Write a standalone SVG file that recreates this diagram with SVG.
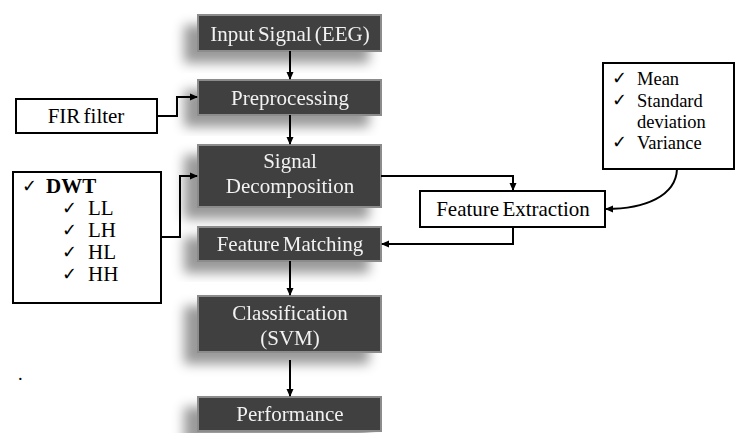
<svg xmlns="http://www.w3.org/2000/svg" width="736" height="433" viewBox="0 0 736 433">
<defs>
<filter id="sh" x="-30%" y="-40%" width="160%" height="200%">
<feGaussianBlur in="SourceAlpha" stdDeviation="6" result="b"/>
<feOffset in="b" dx="-13" dy="11" result="o"/>
<feFlood flood-color="#000" flood-opacity="0.4"/>
<feComposite in2="o" operator="in" result="s"/>
<feMerge><feMergeNode in="s"/><feMergeNode in="SourceGraphic"/></feMerge>
</filter>
<marker id="ah" markerWidth="8" markerHeight="8" refX="7" refY="4" orient="auto" markerUnits="userSpaceOnUse">
<path d="M0,0.5 L8,4 L0,7.5 Z" fill="#000"/>
</marker>
</defs>
<style>
.dk{fill:#404040;stroke:#8c8c8c;stroke-width:2}
.wt{fill:#fff;stroke:#000;stroke-width:2}
text{font-family:"Liberation Serif","DejaVu Serif",serif}
.tw{font-size:21px;fill:#f2f2f2;text-anchor:middle;word-spacing:-2px}
.tb{font-size:21px;fill:#000;word-spacing:-2px}
.ts{font-size:18.5px;fill:#000}
.ck{font-family:"DejaVu Sans",sans-serif;font-size:18px;fill:#000}
.cn{fill:none;stroke:#000;stroke-width:2}
</style>
<rect width="736" height="433" fill="#fff"/>
<g id="input" filter="url(#sh)"><rect class="dk" x="198" y="15" width="183" height="36"/><text class="tw" x="290" y="41">Input Signal (EEG)</text></g>
<g id="preprocessing" filter="url(#sh)"><rect class="dk" x="198" y="80" width="183" height="35"/><text class="tw" x="290" y="105">Preprocessing</text></g>
<g id="decomposition" filter="url(#sh)"><rect class="dk" x="198" y="145" width="183" height="62"/><text class="tw" x="290" y="168">Signal</text><text class="tw" x="290" y="193">Decomposition</text></g>
<g id="matching" filter="url(#sh)"><rect class="dk" x="198" y="227" width="183" height="34"/><text class="tw" x="290" y="251">Feature Matching</text></g>
<g id="classification" filter="url(#sh)"><rect class="dk" x="198" y="296" width="183" height="56"/><text class="tw" x="290" y="320">Classification</text><text class="tw" x="290" y="345">(SVM)</text></g>
<g id="performance" filter="url(#sh)"><rect class="dk" x="198" y="397" width="183" height="34"/><text class="tw" x="290" y="421">Performance</text></g>
<g id="fir"><rect class="wt" x="16" y="99" width="141" height="34"/><text class="tb" x="86" y="123" text-anchor="middle">FIR filter</text></g>
<g id="dwt"><rect class="wt" x="13" y="172" width="148" height="131"/>
<text class="ck" x="22" y="192">✓</text><text class="tb" x="46" y="193" font-weight="bold">DWT</text>
<text class="ck" x="62" y="214">✓</text><text class="tb" x="88" y="215">LL</text>
<text class="ck" x="62" y="236">✓</text><text class="tb" x="88" y="237">LH</text>
<text class="ck" x="62" y="258">✓</text><text class="tb" x="88" y="259">HL</text>
<text class="ck" x="62" y="280">✓</text><text class="tb" x="88" y="281">HH</text></g>
<g id="extraction"><rect class="wt" x="420" y="191" width="185" height="36"/><text class="tb" x="513" y="216" text-anchor="middle">Feature Extraction</text></g>
<g id="features"><rect class="wt" x="603" y="63" width="131" height="106"/>
<text class="ck" x="612" y="84">✓</text><text class="ts" x="637" y="85">Mean</text>
<text class="ck" x="612" y="106">✓</text><text class="ts" x="637" y="107">Standard</text>
<text class="ts" x="637" y="128">deviation</text>
<text class="ck" x="612" y="148">✓</text><text class="ts" x="637" y="149">Variance</text></g>
<text class="ts" x="18" y="380">.</text>
<g id="connectors">
<path class="cn" d="M290,51 V79" marker-end="url(#ah)"/>
<path class="cn" d="M290,115 V144" marker-end="url(#ah)"/>
<path class="cn" d="M290,261 V295" marker-end="url(#ah)"/>
<path class="cn" d="M290,360 V396" marker-end="url(#ah)"/>
<path class="cn" d="M157,116 H177 V97 H197" marker-end="url(#ah)"/>
<path class="cn" d="M161,237 H180 V176 H197" marker-end="url(#ah)"/>
<path class="cn" d="M381,176 H513 V190" marker-end="url(#ah)"/>
<path class="cn" d="M513,227 V244 H382" marker-end="url(#ah)"/>
<path class="cn" d="M677,169 C676,196 645,209 606,209" marker-end="url(#ah)"/>
</g>
</svg>
